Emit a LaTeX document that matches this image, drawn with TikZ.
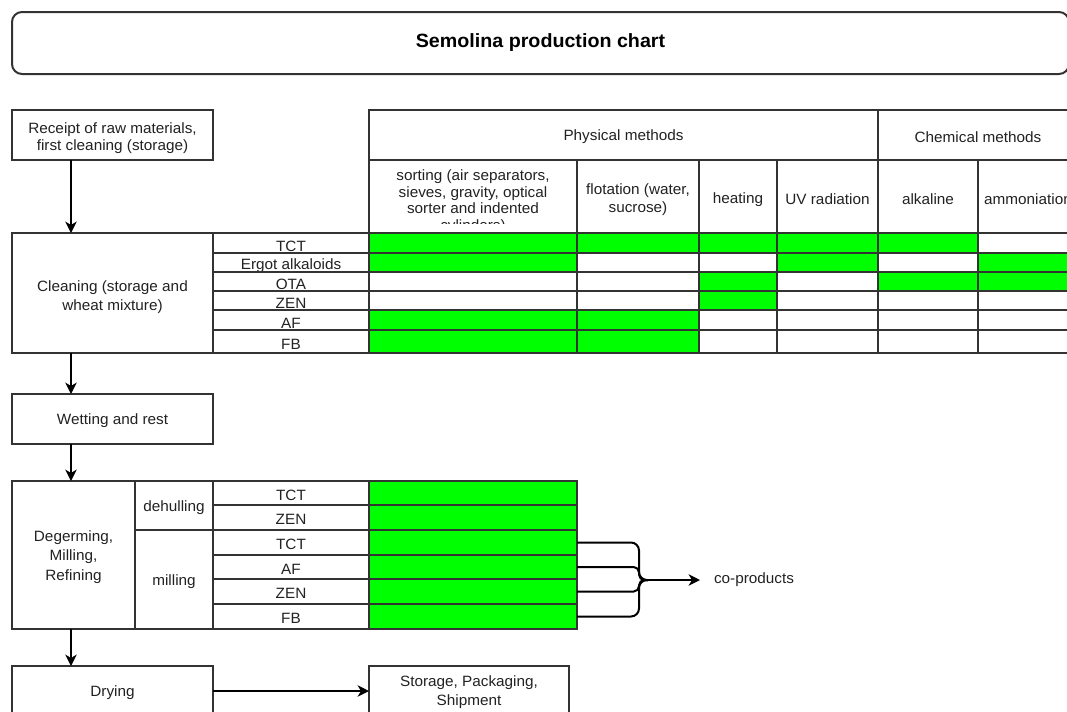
\documentclass[tikz,border=0pt]{standalone}
\usepackage{fontspec}
\setmainfont{Liberation Sans}[FakeStretch=1.025]
\usetikzlibrary{arrows.meta,calc}

\definecolor{edge}{HTML}{333333}
\definecolor{mark}{HTML}{00FF00}
\definecolor{ink}{HTML}{222222}

\tikzset{
  cell/.style={draw=edge, line width=1.5pt, inner sep=0pt, outer sep=0pt},
  celltext/.style={inner sep=0pt, outer sep=0pt, align=center, text=ink,
    font=\fontsize{11.2}{13.2}\selectfont},
  widelines/.style={font=\fontsize{11.2}{14.4}\selectfont},
  titlebox/.style={draw=edge, line width=1.5pt, rounded corners=7.5pt, fill=white,
    inner sep=0pt, outer sep=0pt, text=black, font=\bfseries\fontsize{14.4}{17}\selectfont},
  flow/.style={draw=black, line width=1.5pt, -{Stealth[length=8.5pt,width=8.5pt,inset=2.5pt]}},
  brace/.style={draw=black, line width=1.5pt},
}

% table cell: [text offset px]{name}{x1}{y1}{x2}{y2}{fill}{text}
\newcommand{\tcell}[8][2]{%
  \node[cell, fill=#7, minimum width={(#5-#3)*0.75pt}, minimum height={(#6-#4)*0.75pt},
    label={[celltext, yshift={-(#1)*0.75pt}]center:{#8}}]
    (#2) at ({(#3+#5)/2},{(#4+#6)/2}) {};}

\begin{document}
\begin{tikzpicture}[x=0.75pt,y=-0.75pt]
\useasboundingbox (0,0) rectangle (1067,711);
\clip (0,0) rectangle (1067,711);

% heading
\node[titlebox, minimum width={1057*0.75pt}, minimum height={62*0.75pt}]
  (title) at (540.5,43) {Semolina production chart};

% vertical line of the process arrows
\coordinate (spine) at (71,0);

% first step
\tcell[3]{receipt}{12}{110}{213}{160}{white}{Receipt of raw materials,\\first cleaning (storage)}

% method headers
\tcell{phys}{369}{110}{878}{160}{white}{Physical methods}
\tcell{chem}{878}{110}{1078}{160}{white}{Chemical methods}
\tcell{sorting}{369}{160}{577}{233}{white}{}
\begin{scope}
  % the long label runs past the bottom of its cell and is cut there
  \clip (sorting.north west) rectangle ($(sorting.south east)+(0,-10)$);
  \node[celltext, font=\fontsize{11.2}{12.4}\selectfont] (sortingtext)
    at ($(sorting.center)+(0,5)$)
    {sorting (air separators,\\sieves, gravity, optical\\sorter and indented\\cylinders)};
\end{scope}
\tcell[3]{flotation}{577}{160}{699}{233}{white}{flotation (water,\\sucrose)}
\tcell[3]{heating}{699}{160}{777}{233}{white}{heating}
\tcell[3]{uv}{777}{160}{878}{233}{white}{UV radiation}
\tcell[3]{alkaline}{878}{160}{978}{233}{white}{alkaline}
\tcell[3]{ammon}{978}{160}{1078}{233}{white}{ammoniation}

% cleaning step with its toxin rows
\node[cell, fill=white, minimum width={201*0.75pt}, minimum height={120*0.75pt},
  label={[celltext, widelines, yshift={-4*0.75pt}]center:{Cleaning (storage and\\wheat mixture)}}]
  (cleaning) at (112.5,293) {};
\foreach \n/\ya/\yb/\lab/\fa/\fb/\fc/\fd/\fe/\ff in {
  1/233/253/TCT/mark/mark/mark/mark/mark/white,
  2/253/272/Ergot alkaloids/mark/white/white/mark/white/mark,
  3/272/291/OTA/white/white/mark/white/mark/mark,
  4/291/310/ZEN/white/white/mark/white/white/white,
  5/310/330/AF/mark/mark/white/white/white/white,
  6/330/353/FB/mark/mark/white/white/white/white}
{
  \tcell[3]{tox\n}{213}{\ya}{369}{\yb}{white}{\lab}
  \tcell{c\n-a}{369}{\ya}{577}{\yb}{\fa}{}
  \tcell{c\n-b}{577}{\ya}{699}{\yb}{\fb}{}
  \tcell{c\n-c}{699}{\ya}{777}{\yb}{\fc}{}
  \tcell{c\n-d}{777}{\ya}{878}{\yb}{\fd}{}
  \tcell{c\n-e}{878}{\ya}{978}{\yb}{\fe}{}
  \tcell{c\n-f}{978}{\ya}{1078}{\yb}{\ff}{}
}

% wetting
\tcell{wetting}{12}{394}{213}{444}{white}{Wetting and rest}

% degerming, milling, refining
\node[cell, fill=white, minimum width={123*0.75pt}, minimum height={148*0.75pt},
  label={[celltext, widelines, yshift={-2*0.75pt}]center:{Degerming,\\Milling,\\Refining}}]
  (degerm) at (73.5,555) {};
\tcell{dehull}{135}{481}{213}{530}{white}{dehulling}
\tcell{milling}{135}{530}{213}{629}{white}{milling}
\foreach \n/\ya/\yb/\lab in {1/481/505/TCT, 2/505/530/ZEN, 3/530/555/TCT,
  4/555/579/AF, 5/579/604/ZEN, 6/604/629/FB}
{
  \tcell{mt\n}{213}{\ya}{369}{\yb}{white}{\lab}
  \tcell{g\n}{369}{\ya}{577}{\yb}{mark}{}
}

% last steps
\tcell{drying}{12}{666}{213}{716}{white}{Drying}
\node[cell, fill=white, minimum width={200*0.75pt}, minimum height={50*0.75pt},
  label={[celltext, widelines, yshift={-1*0.75pt}]center:{Storage, Packaging,\\Shipment}}]
  (storage) at (469,691) {};

% process arrows
\draw[flow] (receipt.south -| spine) -- (cleaning.north -| spine);
\draw[flow] (cleaning.south -| spine) -- (wetting.north -| spine);
\draw[flow] (wetting.south -| spine) -- (degerm.north -| spine);
\draw[flow] (degerm.south -| spine) -- (drying.north -| spine);
\draw[flow] (drying.east) -- (storage.west);

% co-products
\coordinate (bend) at (639,580);
\coordinate (merge) at (648,580);
\node[celltext, anchor=west] (coprod) at (714,580) {co-products};
\draw[brace, rounded corners=6pt] (g3.east) -- (g3.east -| bend) -- (bend) -- (merge);
\draw[brace, rounded corners=6pt] (g6.east) -- (g6.east -| bend) -- (bend) -- (merge);
\draw[brace, rounded corners=4pt] (g4.east) -- (g4.east -| bend) -- (bend) -- (merge);
\draw[brace, rounded corners=4pt] (g5.east) -- (g5.east -| bend) -- (bend) -- (merge);
\draw[flow, shorten >=14pt*0.75] (merge) -- (coprod.west);
\end{tikzpicture}
\end{document}
